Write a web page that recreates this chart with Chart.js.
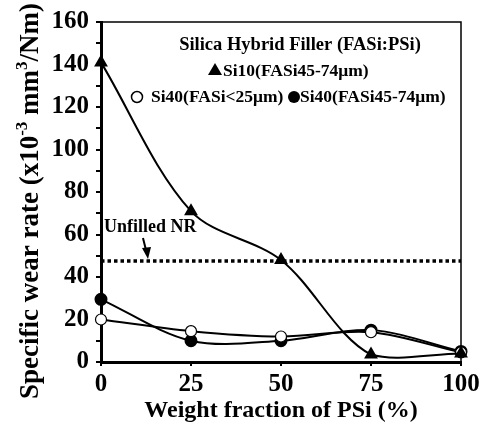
<!DOCTYPE html>
<html>
<head>
<meta charset="utf-8">
<script src="https://cdn.jsdelivr.net/npm/chart.js@4"></script>
<style>
  body { margin: 0; background: #fff; }
  canvas { display: block; }
</style>
</head>
<body>
<canvas id="wearChart" width="481" height="423"></canvas>
<script>
// PSi weight fraction (%)
const psiFraction = [0, 25, 50, 75, 100];
const si10Coarse = [141, 71, 48, 3.5, 4];
const si40Fine = [20, 14.5, 12, 14, 4.5];
const si40Coarse = [29.5, 10, 10, 15, 5];
const unfilledX = [0, 100];
const unfilledNR = [47.5, 47.5];

const yTicks = [0, 20, 40, 60, 80, 100, 120, 140, 160];
const xTicks = [0, 25, 50, 75, 100];

const serif = '"Liberation Serif", "Times New Roman", serif';

function pts(xs, ys) {
    return xs.map((x, i) => ({ x: x, y: ys[i] }));
}

// legend, annotation, frame and y title drawn by hand
const decorations = {
    id: 'decorations',
    afterDraw(chart) {
        const ctx = chart.ctx;
        const a = chart.chartArea;
        ctx.save();

        // thin frame top/right
        ctx.strokeStyle = '#000';
        ctx.lineWidth = 1.5;
        ctx.beginPath();
        ctx.moveTo(a.left, a.top);
        ctx.lineTo(a.right, a.top);
        ctx.lineTo(a.right, a.bottom);
        ctx.stroke();

        ctx.fillStyle = '#000';
        ctx.textBaseline = 'alphabetic';

        // legend
        ctx.font = 'bold 18.5px ' + serif;
        ctx.textAlign = 'center';
        ctx.fillText('Silica Hybrid Filler (FASi:PSi)', 300, 50);

        ctx.textAlign = 'left';
        ctx.font = 'bold 17.5px ' + serif;
        // triangle
        ctx.beginPath();
        ctx.moveTo(215, 63);
        ctx.lineTo(222, 75);
        ctx.lineTo(208, 75);
        ctx.closePath();
        ctx.fill();
        ctx.fillText(chart.data.datasets[0].label, 223, 76);

        // open circle
        ctx.beginPath();
        ctx.arc(137, 97, 5.5, 0, Math.PI * 2);
        ctx.fillStyle = '#fff';
        ctx.fill();
        ctx.lineWidth = 1.5;
        ctx.stroke();
        ctx.fillStyle = '#000';
        ctx.fillText(chart.data.datasets[1].label, 151, 102);

        // filled circle
        ctx.beginPath();
        ctx.arc(294, 97, 6, 0, Math.PI * 2);
        ctx.fill();
        ctx.fillText(chart.data.datasets[2].label, 300, 102);

        // Unfilled NR annotation
        ctx.font = 'bold 18px ' + serif;
        ctx.fillText('Unfilled NR', 104, 232);
        ctx.lineWidth = 2;
        ctx.beginPath();
        ctx.moveTo(143, 238);
        ctx.lineTo(146, 250);
        ctx.stroke();
        ctx.beginPath();
        ctx.moveTo(148, 259);
        ctx.lineTo(142, 248);
        ctx.lineTo(151, 247);
        ctx.closePath();
        ctx.fill();

        // y axis title with superscripts
        ctx.translate(38, 201);
        ctx.rotate(-Math.PI / 2);
        const big = 'bold 27px ' + serif;
        const small = 'bold 17px ' + serif;
        const parts = [
            ['Specific wear rate (x10', big, 0],
            ['-3', small, -11],
            [' mm', big, 0],
            ['3', small, -11],
            ['/Nm)', big, 0]
        ];
        let total = 0;
        parts.forEach(p => { ctx.font = p[1]; total += ctx.measureText(p[0]).width; });
        let x = -total / 2;
        parts.forEach(p => {
            ctx.font = p[1];
            ctx.fillText(p[0], x, p[2]);
            x += ctx.measureText(p[0]).width;
        });

        ctx.restore();
    }
};

new Chart(document.getElementById('wearChart'), {
    type: 'scatter',
    data: {
        datasets: [
            {
                label: 'Si10(FASi45-74μm)',
                data: pts(psiFraction, si10Coarse),
                showLine: true,
                tension: 0.33,
                borderColor: '#000',
                borderWidth: 2,
                pointStyle: 'triangle',
                pointRadius: 6,
                pointBackgroundColor: '#000',
                pointBorderColor: '#000',
                clip: false
            },
            {
                label: 'Si40(FASi<25μm)',
                data: pts(psiFraction, si40Fine),
                showLine: true,
                tension: 0.33,
                borderColor: '#000',
                borderWidth: 2,
                pointStyle: 'circle',
                pointRadius: 5.5,
                pointBackgroundColor: '#fff',
                pointBorderColor: '#000',
                pointBorderWidth: 1.2,
                clip: false
            },
            {
                label: 'Si40(FASi45-74μm)',
                data: pts(psiFraction, si40Coarse),
                showLine: true,
                tension: 0.33,
                borderColor: '#000',
                borderWidth: 2,
                pointStyle: 'circle',
                pointRadius: 5.5,
                pointBackgroundColor: '#000',
                pointBorderColor: '#000',
                clip: false
            },
            {
                label: 'Unfilled NR',
                data: pts(unfilledX, unfilledNR),
                showLine: true,
                borderColor: '#000',
                borderWidth: 3.5,
                borderDash: [3.5, 3],
                pointRadius: 0
            }
        ]
    },
    options: {
        responsive: false,
        devicePixelRatio: 1,
        animation: false,
        layout: { padding: { left: 0, right: 20, top: 20, bottom: 0 } },
        plugins: {
            legend: { display: false },
            tooltip: { enabled: false }
        },
        scales: {
            x: {
                type: 'linear',
                min: 0,
                max: 100,
                afterBuildTicks: s => { s.ticks = xTicks.map(v => ({ value: v })); },
                afterFit: s => { s.height = 61; s.paddingRight = 0; },
                border: { color: '#000', width: 3 },
                grid: { drawOnChartArea: false, color: '#000', tickLength: 4, lineWidth: 2 },
                ticks: {
                    color: '#000',
                    padding: 6,
                    font: { family: serif, size: 25, weight: 'bold', lineHeight: 1 }
                },
                title: {
                    display: true,
                    text: 'Weight fraction of PSi (%)',
                    color: '#000',
                    padding: { top: 0, bottom: 0 },
                    font: { family: serif, size: 24, weight: 'bold', lineHeight: 1 }
                }
            },
            y: {
                min: 0,
                max: 160,
                afterBuildTicks: s => {
                    const t = [];
                    for (let v = 0; v <= 160; v += 10) t.push({ value: v });
                    s.ticks = t;
                },
                afterFit: s => { s.width = 101; },
                border: { color: '#000', width: 3 },
                grid: { drawOnChartArea: false, color: '#000', tickLength: 5, lineWidth: 2 },
                ticks: {
                    color: '#000',
                    padding: 7,
                    autoSkip: false,
                    callback: v => (yTicks.includes(v) ? v : ''),
                    font: { family: serif, size: 25, weight: 'bold' }
                }
            }
        }
    },
    plugins: [decorations]
});
</script>
</body>
</html>
